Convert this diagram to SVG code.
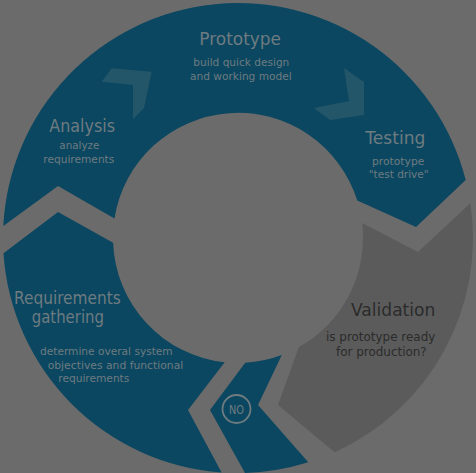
<svg xmlns="http://www.w3.org/2000/svg" width="476" height="473" viewBox="0 0 476 473">
<style>
.seg{fill:#0b4760}
.val{fill:#5b5b5b}
.chev{fill:#245669}
.t{font-family:"DejaVu Sans","Liberation Sans",sans-serif;fill:#6e7b80}
.h{font-size:17px}
.s{font-size:11px}
.vd{fill:#2b2b2b}
</style>
<rect width="476" height="473" fill="#6b6b6b"/>
<g id="cycle-main">
<path class="seg" d="M3.3,226.1 L58,186 L114.5,218.4 A125,125 0 0 1 357.3,200.6 L416,227 L465.7,180 A235,235 0 0 0 3.3,226.1 Z"/>
<polygon class="chev" points="101.7,81.7 111.7,68.3 151.7,71.7 144,108 133,119 133,85"/>
<polygon class="chev" points="344,68 364,82 364,115 330,120 314,108 349,101"/>
</g>
<g id="analysis">
<text class="t h" x="49.3" y="131.7" textLength="65.7" lengthAdjust="spacingAndGlyphs">Analysis</text>
<text class="t s" x="59.3" y="149.3" textLength="40" lengthAdjust="spacingAndGlyphs">analyze</text>
<text class="t s" x="43.3" y="162.5" textLength="71" lengthAdjust="spacingAndGlyphs">requirements</text>
</g>
<g id="prototype">
<text class="t h" x="199.3" y="45" textLength="81.7" lengthAdjust="spacingAndGlyphs">Prototype</text>
<text class="t s" x="193.3" y="66" textLength="96" lengthAdjust="spacingAndGlyphs">build quick design</text>
<text class="t s" x="190" y="80" textLength="101.7" lengthAdjust="spacingAndGlyphs">and working model</text>
</g>
<g id="testing">
<text class="t h" x="365.3" y="144" textLength="60" lengthAdjust="spacingAndGlyphs">Testing</text>
<text class="t s" x="372" y="165" textLength="52.3" lengthAdjust="spacingAndGlyphs">prototype</text>
<text class="t s" x="368.7" y="178.3" textLength="60" lengthAdjust="spacingAndGlyphs">"test drive"</text>
</g>
<g id="validation">
<path class="val" d="M362.1,223 L418,252 L470.4,203.3 A235,235 0 0 1 334.7,452.2 L278,405 L298.8,347.2 A125,125 0 0 0 362.1,223 Z"/>
<text class="t h vd" x="351" y="316.3" textLength="84.3" lengthAdjust="spacingAndGlyphs">Validation</text>
<text class="t vd" font-size="12" x="326" y="341.3" textLength="109.3" lengthAdjust="spacingAndGlyphs">is prototype ready</text>
<text class="t vd" font-size="12" x="336" y="355.7" textLength="90.7" lengthAdjust="spacingAndGlyphs">for production?</text>
</g>
<g id="no">
<path class="seg" d="M245.2,362.8 A125,125 0 0 0 281.8,355.1 L258,405 L308.3,462.2 A235,235 0 0 1 245,472.9 L210,410 Z"/>
<circle cx="236.5" cy="409" r="14" fill="none" stroke="#6e7b80" stroke-width="1.8"/>
<text class="t" font-size="13" x="236.5" y="413.7" text-anchor="middle" textLength="15" lengthAdjust="spacingAndGlyphs">NO</text>
</g>
<g id="requirements">
<path class="seg" d="M113.1,242.8 L58,212 L3.5,253.2 A235,235 0 0 0 221.6,472.4 L188,410 L224.7,362.3 A125,125 0 0 1 113.1,242.8 Z"/>
<text class="t h" x="14" y="304" textLength="106.7" lengthAdjust="spacingAndGlyphs">Requirements</text>
<text class="t h" x="31.7" y="323" textLength="72.3" lengthAdjust="spacingAndGlyphs">gathering</text>
<text class="t s" x="40" y="354.7" textLength="132.7" lengthAdjust="spacingAndGlyphs">determine overal system</text>
<text class="t s" x="47.7" y="369" textLength="135.6" lengthAdjust="spacingAndGlyphs">objectives and functional</text>
<text class="t s" x="58.3" y="382" textLength="71" lengthAdjust="spacingAndGlyphs">requirements</text>
</g>
<g id="connectors"></g>
</svg>
